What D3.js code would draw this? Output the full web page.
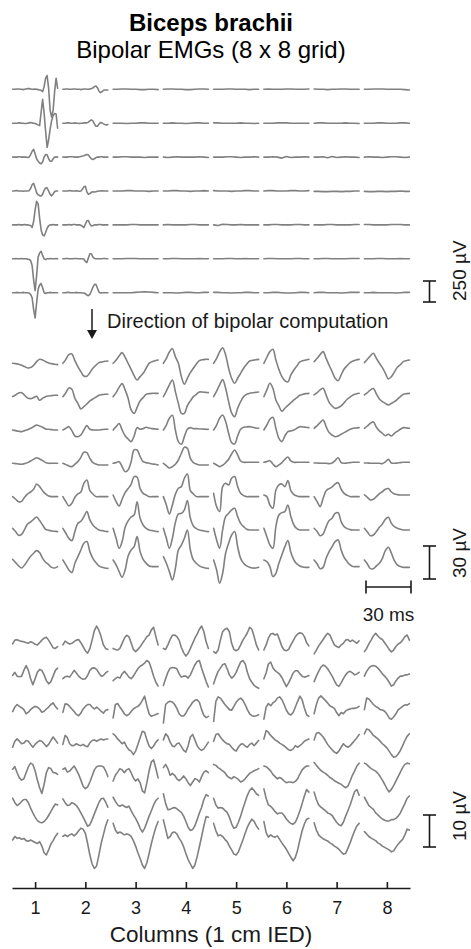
<!DOCTYPE html>
<html><head><meta charset="utf-8">
<script src="https://cdn.jsdelivr.net/npm/d3@7"></script>
<style>
body{margin:0;background:#fff}
svg{display:block;font-family:"Liberation Sans",Arial,Helvetica,sans-serif}
</style>
</head><body>
<svg id="chart" width="471" height="949"></svg>
<script>
// ---------------- data ----------------
const columns = [1, 2, 3, 4, 5, 6, 7, 8];
const tickLabels = ["1", "2", "3", "4", "5", "6", "7", "8"];
const rowIds = [1, 2, 3, 4, 5, 6, 7];
const traceDurationMs = 30;
const titleText = "Biceps brachii";
const subtitleText = "Bipolar EMGs (8 x 8 grid)";
const directionText = "Direction of bipolar computation";
const xAxisTitle = "Columns (1 cm IED)";
const scaleBarValues = { A: 250, B: 30, C: 10, timeMs: 30 };

// Panel A (µV), each trace sampled evenly over 30 ms
const A_r1 = [
 [0,0,0,4,4,0,0,-4,0,4,8,8,4,0,0,4,0,-4,-8,-12,-28,32,132,164,12,-250,-330,-250,-28,132,12],
 [0,0,4,4,0,0,0,4,4,0,0,0,-4,0,4,4,0,0,4,8,16,32,40,20,-20,-40,-30,-12,-8,-8,-8],
 [0,0,4,4,0,0,-4,-4,0,0,-4],[0,4,4,0,0,-4,-4,0,4,4,0],[0,0,0,4,4,0,0,0,-4,0,0],
 [0,4,0,0,0,4,4,0,0,0,4],[4,0,0,-4,0,0,4,4,0,0,0],[0,0,4,4,4,0,0,0,0,-4,-8]];
const A_r2 = [
 [0,0,0,0,4,4,0,0,-4,-4,0,4,8,4,0,-4,-12,-20,-28,130,285,120,-96,-288,-200,-70,30,90,115,110,-60],
 [0,0,0,4,4,0,0,0,4,0,0,-4,0,0,4,4,4,12,28,40,28,-8,-36,-36,-12,8,4,-8,-16,-20,-16],
 [0,0,0,-4,0,0,4,4,0,0,0],[0,0,4,0,0,-4,0,4,4,0,0],[4,4,0,0,0,0,4,0,0,-4,0],
 [0,0,0,4,4,4,0,0,0,0,0],[0,4,4,0,0,0,0,4,0,0,-4],[0,0,0,4,4,0,0,0,4,4,0]];
const A_r3 = [
 [0,0,0,0,4,4,0,0,0,0,-4,0,30,70,92,40,-20,-50,-70,-80,-60,0,30,28,-20,-50,-50,-20,0,4,0],
 [0,0,0,0,4,4,4,4,0,0,0,4,8,12,16,24,32,24,0,-20,-28,-20,-8,0,0,4,4,0,0,0,0],
 [0,0,4,4,0,0,0,-4,0,0,0],[0,-4,0,4,0,0,0,0,4,0,-4],[0,0,0,4,4,0,-4,0,0,4,0],
 [0,0,4,0,-12,8,-4,0,0,4,0],[0,0,4,-8,8,-4,0,4,0,0,-4],[0,4,0,0,-4,0,4,4,0,-4,0]];
const A_r4 = [
 [0,0,4,4,0,0,0,-4,0,0,0,4,30,75,92,40,-20,-45,-55,-60,-40,10,35,38,0,-40,-58,-35,-8,0,0],
 [0,0,0,0,4,4,0,0,0,4,0,-4,0,20,50,56,-10,-40,-30,-16,-10,-12,-8,-4,0,0,4,0,0,0,0],
 [0,0,0,4,4,0,0,0,-4,0,0],[0,0,4,4,0,0,-4,0,0,4,0],[4,0,0,0,-4,0,0,4,4,0,0],
 [0,4,4,0,0,0,4,4,0,0,4],[-4,-4,-8,-8,-4,-4,-8,-4,-4,0,0],[-4,-8,-8,-4,-4,-8,-4,-4,0,-4,-4]];
const A_r5 = [
 [0,0,0,0,4,0,0,0,4,0,0,-4,-8,-30,40,180,280,250,80,-60,-120,-130,-90,-40,-10,0,0,4,0,0,0],
 [0,0,0,0,4,0,0,4,4,0,0,0,-4,-16,-32,8,48,52,10,-12,-8,0,0,0,4,4,0,0,0,0,0],
 [0,0,0,0,4,4,0,0,0,0,0],[0,4,0,0,0,0,4,4,0,0,0],[0,-8,8,4,0,0,4,0,0,0,0],
 [0,0,4,4,0,0,0,4,4,0,0],[0,0,0,4,4,0,0,0,0,4,4],[4,4,0,0,0,0,4,4,4,0,0]];
const A_r6 = [
 [0,0,4,0,0,0,4,0,0,0,-4,-8,-20,-80,-250,-380,-200,20,70,90,40,0,-10,0,0,4,0,0,0,4,0],
 [0,0,4,4,0,0,0,0,4,4,0,0,0,0,-4,-30,-44,10,60,60,20,4,0,0,0,0,0,4,4,0,0],
 [0,0,0,4,4,4,0,0,0,0,0],[0,0,4,4,0,0,0,0,4,0,0],[0,0,0,4,4,0,0,4,0,0,0],
 [0,4,4,0,0,0,0,4,4,0,0],[0,0,4,4,0,0,0,0,4,4,4],[0,0,0,4,4,0,0,0,4,0,0]];
const A_r7 = [
 [0,0,0,4,0,0,0,4,0,0,0,-4,-20,-60,-200,-300,-120,40,90,110,60,0,-10,0,0,4,0,0,0,0,0],
 [0,0,0,4,4,0,0,0,0,4,0,0,0,-4,-4,-12,-28,-36,-20,20,64,96,100,56,10,-4,0,0,0,0,0],
 [0,0,0,0,0,4,8,12,8,4,0],[0,0,0,-4,0,4,4,0,0,4,4],[4,4,0,0,-4,0,0,4,4,0,0],
 [0,0,4,4,0,-4,-4,0,4,4,0],[0,4,4,0,0,0,-4,0,4,4,4],[0,0,4,0,0,0,0,-4,0,4,4]];

// Panel B (µV)
const B_r1 = [
 [0,-0.3,-0.9,-1.8,-3,-4.2,-3.9,-1.8,1.5,3.6,3,1.5,0.3,-0.3,-0.9,-1.2],
 [0,3.6,7.9,8.5,2.4,-3,-7.6,-11.5,-11.8,-8.5,-4.5,-1.8,0.6,1.2,1.8,2.1],
 [0,3,6.7,9.7,5.5,0,-5.5,-11.2,-15.2,-12.1,-9.1,-4.5,0,1.5,2.4,3],
 [0,4.5,10.3,13.3,6,0,-12.1,-19.1,-13.6,-8.5,-4.5,-0.6,2.4,3.3,3.6,3.6],
 [0,4.5,10.3,14.2,7.6,-4.5,-13.6,-18.2,-13.6,-9.1,-4.5,-0.9,2.1,2.7,3.3,3.6],
 [0,5.5,10.6,12.7,3,-5.5,-12.1,-15.8,-17,-10.6,-6.1,-2.4,1.2,2.4,3,3.6],
 [1.5,4.5,7.9,10.6,4.5,-1.8,-7.6,-13.6,-15.8,-10.6,-5.2,-2.1,0.6,2.1,3,3.6],
 [0.6,3.6,6.7,9.1,4.5,0,-3.9,-9.1,-14.2,-12.1,-7.9,-3.6,-1.2,1.5,2.4,3]];
const B_r2 = [
 [-0.3,1.2,3,3.3,0.9,-1.5,-2.1,-1.2,0,-3.6,-1.8,-0.3,0.3,0.6,0.9,0.9],
 [-0.3,3.3,7.6,6.4,-1.8,-6.4,-11.5,-9.4,-7,-4.2,-2.4,-0.9,0.9,1.5,1.8,1.8],
 [-0.3,3.3,8.2,11.5,5.8,-1.8,-12.4,-15.5,-10,-4.2,-1.2,1.8,2.4,2.7,2.7,2.7],
 [-0.3,4.8,10.3,14.8,4.2,-6.4,-15.5,-15.5,-8.5,-4.2,-0.3,1.8,3.9,3.9,3.6,3.3],
 [-0.3,4.8,10.3,15.2,7.3,-4.8,-15,-18.5,-10.9,-4.8,-0.3,1.8,2.7,3.3,3.6,3.9],
 [-0.3,5.8,11.8,7.3,-3.3,-8.8,-13.6,-10.9,-8.2,-5.8,-3.3,-1.2,0.9,1.8,2.4,2.7],
 [1.2,3.3,5.8,7.3,1.2,-5.5,-8.8,-10.9,-10.3,-8.8,-5.8,-2.7,-0.6,1.2,2.1,2.7],
 [1.2,3.3,5.8,7,2.1,-2.4,-4.8,-6.4,-7.9,-6.4,-4.8,-2.7,-0.3,1.8,2.4,2.7]];
const B_r3 = [
 [-0.6,-1.2,-1.8,-2.1,-1.2,-0.3,0.9,2.4,3.9,3,1.8,0.3,0,-0.3,-0.6,-0.6],
 [-0.6,0.9,2.4,-1.2,-6.1,-6.7,-5.2,-0.6,3.3,0,-0.6,-0.6,-0.6,-0.3,0,0],
 [-0.6,2.4,5.2,-0.6,-5.8,-8.8,-11.2,-6.1,1.5,0,0.6,1.8,1.2,0.6,0.3,0],
 [-0.6,3.9,10,12.7,-0.6,-11.2,-13.6,-6.7,0,1.5,0.6,0.6,0.3,0.3,0,0],
 [-0.6,3.9,10,13,7,-3.6,-12.1,-13.3,-6.1,0,1.8,2.1,2.4,1.8,1.2,0.9],
 [-0.6,3.9,9.1,10.9,0.9,-8.2,-11.2,-6.1,-2.1,-1.5,-0.6,0.9,2.4,2.1,1.8,1.5],
 [0.9,3.3,6.1,8.5,2.4,-3,-5.2,-6.7,-6.1,-4.5,-3,-1.5,0,0.9,1.2,1.5],
 [0.9,3,5.5,6.7,1.8,-1.5,-3.6,-5.8,-4.5,-6.1,-3.6,-1.8,0,1.5,1.2,0.9]];
const B_r4 = [
 [-0.9,-1.2,-1.5,-1.8,-1.2,-0.3,1.2,2.7,4.2,3,1.5,-0.3,-0.9,-0.9,-0.9,-0.9],
 [-0.9,-2.1,-3.3,-3.9,-1.8,0.6,4.5,9.1,8.8,3.6,-0.3,-1.5,-2.4,-2.4,-2.4,-2.4],
 [-0.9,-0.3,0.6,-3.9,-8.5,-7,0.6,11.2,11.2,5.2,0.6,-0.3,-0.9,-1.5,-1.8,-2.4],
 [-0.9,-3,-5.2,-3.9,-1.8,2.1,8.2,13.6,12.7,3.6,-0.3,-1.5,-2.4,-2.4,-2.4,-2.4],
 [-0.9,-2.4,-3.9,-2.7,-0.3,2.7,7.6,11.2,6.7,1.2,0,0,0,0,0,0],
 [0,0.6,1.5,-1.5,-3.9,-2.4,-0.3,2.7,4.8,1.2,0,0,0,0,0,0],
 [-0.6,-0.6,-0.9,-0.9,-0.9,-1.2,-0.6,1.5,4.2,-0.3,-0.9,-0.6,-0.3,0,0,0],
 [-0.6,-0.6,-0.9,-0.9,-0.9,-0.9,-1.2,0.3,2.7,-0.6,-0.9,-0.6,-0.3,0,0,0]];
const B_r5 = [
 [-1.2,-3.6,-5.8,-5.5,-1.8,1.2,3,5.5,10.3,7.9,4.2,1.2,-0.6,-1.2,-1.2,-1.2],
 [-1.2,-5.8,-9.7,-7.3,-1.8,1.2,3,10.9,13.9,4.2,1.2,-1.2,-1.2,-1.2,-1.2,-1.2],
 [0.3,-5.8,-9.7,-3.6,2.4,6.1,10,17,16.4,6.1,1.8,0.3,-1.2,-1.2,-1.2,-1.2],
 [-1.2,-8.8,-17,-8.8,0.9,6.4,7.9,15.5,19.4,4.2,1.2,-1.2,-1.2,-1.2,-1.2,-1.2],
 [1.8,-10.3,-14.8,7.9,10.9,9.4,15.5,17,7.9,1.8,-0.3,-1.2,-1.2,-1.2,-1.2,-1.2],
 [0.3,-1.2,-8.8,-11.8,4.8,9.4,10.3,7.9,13.3,4.2,0.6,-0.6,-1.2,-1.2,-1.2,-1.2],
 [-1.2,-5.8,-10.3,-2.7,4.2,6.1,7.6,10.3,11.5,5.5,1.8,0,-1.2,-1.2,-1.2,-1.2],
 [0.3,-1.8,-4.2,-3.6,-1.2,1.5,3.3,5.5,6.1,3,1.2,0.6,0.3,0.3,0.3,0.3]];
const B_r6 = [
 [0,-3,-6.4,-5.5,-0.9,3.9,5.8,8.2,10.3,7,3,-0.9,-1.8,-2.4,-2.7,-3],
 [0,-4.5,-9.1,-11.2,-3,4.5,6.4,10.6,15.2,7.6,3,0.3,-1.5,-2.1,-2.7,-3],
 [0,-9.1,-18.2,-12.1,0.9,6.7,10.3,12.1,24.2,9.1,3,0,-1.5,-2.1,-2.7,-3],
 [0,-9.1,-18.2,-9.1,5.2,13,13.6,16.7,25.2,9.1,2.1,-0.3,-1.5,-2.1,-2.7,-3],
 [0,-10.6,-18.2,-1.5,10.6,13.6,16.7,18.2,10.6,4.5,1.5,-0.9,-1.5,-1.5,-1.5,-1.5],
 [0,-7.6,-15.2,-18.2,1.5,12.1,14.2,15.2,21.2,10.6,3,-0.3,-1.5,-1.5,-1.5,-1.5],
 [0,-3,-6.7,-5.2,1.5,7,9.1,13.6,14.2,6.1,1.5,-0.3,-1.2,-1.5,-1.5,-1.5],
 [0,-3.3,-6.7,-6.1,-3,0.9,3.9,8.2,10,4.5,1.5,0,-0.9,-1.5,-1.5,-1.5]];
const B_r7 = [
 [1.8,-1.2,-4.2,-6.1,-3.3,0.6,4.5,7.3,9.7,7.9,2.7,-0.9,-3,-5.5,-6.1,-4.8],
 [1.2,-3.3,-7.9,-10.3,-1.8,4.2,10.3,16.4,17.9,8.8,2.7,-1.2,-4.2,-5.5,-6.1,-6.4],
 [1.2,-3.3,-9.4,-14.5,-7.9,4.8,10.3,13.3,22.4,8.8,1.8,-1.8,-4.2,-4.8,-4.8,-4.8],
 [4.2,-1.8,-9.4,-17,-6.4,10.3,14.8,20.9,28.5,10.3,1.2,-1.8,-4.2,-5.5,-6.1,-6.4],
 [1.2,-7.9,-20,-10.9,7.3,16.4,23.9,27,13.3,2.7,-1.8,-4.2,-5.5,-6.1,-6.1,-5.5],
 [1.2,-0.3,-4.8,-13.9,-10.9,-1.8,5.8,13.3,18.8,7.9,1.2,-2.4,-4.2,-5.2,-5.5,-5.5],
 [1.2,-2.4,-6.7,-5.5,2.7,8.8,13.3,17.9,19.4,10.3,3.6,-0.3,-3.3,-4.8,-4.8,-4.8],
 [1.2,-2.4,-6.7,-6.7,-4.2,-1.8,2.7,9.7,12.7,7.3,0.6,-3.3,-4.8,-5.5,-5.5,-5.5]];

// Panel C (µV)
const C_r1 = [
 [-0.3,0.9,1.0,0.7,0.5,0.4,0.1,-0.1,0.4,0.1,-0.4,-0.6,0.1,0.9,1.5,1.8,0.9,-0.3,-1.5,-1.7,-1.1],
 [-0.6,0.6,0.1,-0.3,-0.1,0.4,0.9,1.1,0.1,-1.1,-2.4,-3.2,-1.7,0.9,3.9,5.3,4.0,2.0,-0.6,-1.7,-2.0],
 [-1.7,-2.0,-2.2,-1.7,-0.1,1.5,2.4,2.0,0.1,-2.0,-2.7,-2.0,-1.2,-0.1,0.9,2.0,2.5,4.1,4.9,2.0,-0.6],
 [-1.7,-2.0,-0.6,1.1,2.4,2.5,2.0,0.9,-1.4,-3.0,-4.1,-3.2,-1.7,-0.1,1.5,2.8,4.3,5.3,3.5,0.4,-1.7],
 [-2.7,-3.2,-2.2,0.9,3.5,4.3,4.6,3.5,-0.1,-2.0,-2.4,-2.0,-0.6,0.9,2.0,3.2,4.9,4.3,2.0,-0.6,-2.2],
 [-2.2,-0.6,1.5,2.8,3.0,2.5,2.8,0.9,-1.1,-2.2,-2.4,-2.0,-0.6,0.7,2.0,2.8,3.2,3.0,2.0,0.1,-0.9],
 [-3.4,-2.2,-0.9,0.1,1.1,2.2,3.0,2.5,0.9,-0.6,-1.1,-1.4,-0.6,-0.1,0.9,1.1,0.4,0.9,0.4,-0.1,0.7],
 [-2.7,-1.7,-0.3,0.9,2.2,3.0,2.2,1.5,1.1,0.1,-0.9,-2.0,-2.8,-2.2,-1.1,-0.3,0.1,0.9,2.0,2.5,0.9]];
const C_r2 = [
 [0.1,1.1,-0.1,-0.3,-0.1,1.7,3.2,1.7,-0.9,-2.8,-0.9,1.1,2.0,1.7,0.3,-1.5,-2.5,-1.8,-0.1,1.7,2.4],
 [-0.9,-0.3,-0.1,-0.4,0.6,1.7,0.9,-0.1,-0.7,-1.1,-0.9,0.1,1.7,2.4,2.5,2.0,0.9,-0.1,0.1,0.9,1.4],
 [-1.5,-0.9,-0.4,-0.7,0.6,1.4,0.6,-0.4,-0.9,-0.1,1.1,2.2,3.0,3.4,4.0,4.8,4.3,2.2,-0.1,-2.0,-3.2],
 [-3.0,-0.9,1.1,2.4,2.6,2.5,2.2,0.6,-0.4,-0.1,-0.1,-0.7,0.3,1.9,3.4,4.5,4.8,2.4,0.3,-1.8,-3.5],
 [-2.5,-0.4,1.4,2.4,3.5,3.8,2.2,0.3,-0.7,-0.1,1.1,2.7,4.3,4.8,3.8,1.1,-0.9,-2.0,-3.0,-3.5,-3.9],
 [-0.9,0.9,3.7,4.3,2.5,1.6,1.1,0.5,-0.5,-2.0,-3.4,-2.2,-0.7,0.9,1.6,1.6,0.6,-0.1,-0.4,-0.2,0.1],
 [-1.8,-0.1,1.4,2.7,3.4,3.0,2.2,1.1,-0.1,-1.5,-2.8,-3.3,-2.2,-0.9,0.3,1.1,1.4,0.9,0.3,0.6,1.1],
 [-0.1,1.4,2.4,3.0,3.2,3.0,2.4,1.6,0.6,-0.1,-0.9,-2.0,-3.2,-2.8,-1.6,-0.7,-0.1,-0.1,0.3,0.3,0.6]];
const C_r3 = [
 [-0.9,0.5,1.3,0.7,0.3,-0.3,-1.6,-1.1,-0.3,0.3,0.7,0.5,-0.1,-1.1,-0.8,-0.1,0.5,1.3,1.8,0.7,-0.1],
 [-1.1,1.5,1.4,0.7,-0.1,-0.9,-1.8,-2.2,-1.4,-0.1,0.7,1.3,1.3,0.5,-0.1,0.5,-0.1,-0.8,-1.4,-0.5,-0.3],
 [-2.9,1.3,1.6,0.5,-0.5,-1.6,-2.2,-1.8,-0.9,-0.1,0.4,0.7,1.4,2.6,3.9,0.9,-1.6,-2.4,-2.1,-1.8,-1.5],
 [-4.5,1.3,2.0,2.3,2.1,1.3,0.1,-1.6,-2.3,-2.3,-1.4,-0.1,0.9,2.0,2.6,2.8,2.0,-0.3,-2.1,-2.8,-2.4],
 [-4.0,2.3,3.7,3.3,2.3,1.3,0.5,-0.3,-0.5,0.7,2.0,2.8,3.3,2.6,1.3,-0.3,-1.6,-2.2,-2.4,-2.2,-1.9],
 [-3.3,0.5,1.6,0.9,1.8,2.3,3.3,3.7,2.8,1.3,-0.5,-1.6,-2.0,-1.2,0.5,2.3,3.9,2.8,0.2,-1.9,-2.4],
 [-1.6,1.3,3.3,4.0,3.3,2.6,1.8,0.9,0.5,0.1,-1.2,-2.2,-1.2,-1.6,-0.7,-0.3,-0.1,0.1,0.1,0.3,0.7],
 [-0.3,3.3,3.0,2.2,1.3,0.7,0.3,-0.3,-0.4,-0.8,-1.7,-2.9,-3.3,-2.6,-1.6,-0.4,0.2,0.7,1.2,1.1,1.6]];
const C_r4 = [
 [-1.8,0.1,0.8,0.1,-0.7,-0.5,0.3,0.1,-0.9,-1.8,-0.9,-0.2,0.3,0.1,-0.7,-1.6,-0.9,0.3,1.4,0.5,-0.5],
 [-0.9,1.9,1.2,-0.7,-1.3,-1.2,-0.7,-1.1,-1.3,-0.9,-1.4,-1.6,-0.4,0.3,0.5,0.1,0.5,0.8,0.5,0.7,0.8],
 [2.4,1.8,0.8,0.1,-0.7,-0.2,-1.6,-2.6,-3.0,-4.1,-3.0,-0.9,1.2,3.2,2.9,0.5,-1.4,-2.2,-1.4,-0.2,0.5],
 [0.5,2.4,1.6,-0.2,-1.4,-1.6,-0.7,-0.5,-1.6,-2.8,-3.3,-1.3,1.4,2.2,0.5,-1.3,-2.3,-2.8,-2.3,-1.3,-0.2],
 [0.1,2.2,2.4,1.4,0.5,-0.2,-0.7,-0.9,-1.8,-2.6,-3.0,-1.8,-0.9,-0.7,-1.4,-1.8,-0.9,-0.5,-1.3,-0.5,0.3],
 [0.8,3.4,2.9,1.9,1.2,0.5,0.1,-0.5,-0.9,-1.4,-2.0,-2.6,-2.8,-2.3,-1.3,-1.8,-1.3,-0.7,0.1,0.5,0.8],
 [0.5,2.6,2.8,2.2,1.4,0.3,-0.9,-1.8,-2.6,-3.3,-3.7,-3.0,-1.8,-0.7,-1.4,-1.8,-1.3,-0.5,0.3,1.2,2.2],
 [2.4,3.9,3.7,2.9,1.9,1.4,0.8,0.1,-0.7,-1.3,-2.0,-3.0,-4.1,-4.9,-4.7,-3.9,-2.8,-1.3,0.3,1.6,2.4]];
const C_r5 = [
 [1.6,2.4,0.5,-1.1,-1.8,-1.4,0.5,2.4,3.5,3.1,1.1,-1.8,-4.2,-6.0,-3.1,0.5,2.1,1.8,0.5,0.5,0],
 [1.6,2.0,0.7,1.0,1.8,2.6,1.4,0,-1.8,-3.7,-4.5,-3.9,-2.4,-0.5,1.4,2.4,2.6,2.6,2.4,1.1,-0.7],
 [-2.1,-0.3,0.7,1.8,1.4,0.5,1.4,1.8,0.5,-1.1,-2.1,-1.4,-2.6,-5.2,-5.8,-2.6,1.1,3.9,4.5,1.8,-1.1],
 [2.1,3.1,1.8,-0.3,0.3,-0.3,-1.4,-2.0,-1.4,-0.5,-1.4,-2.6,-3.5,-2.4,-1.4,-1.6,-2.4,-0.7,0.7,1.1,0.5],
 [3.1,2.8,2.1,1.6,1.1,0.5,-0.5,-1.1,-1.4,-0.7,-1.1,-1.6,-2.4,-2.1,-1.4,-0.5,0.3,0.7,1.1,1.4,1.8],
 [2.6,2.4,1.8,1.1,0,-0.7,-1.4,-1.0,-1.4,-2.1,-2.6,-2.4,-2.4,-2.6,-2.2,-1.4,0.1,1.4,2.1,2.6,2.6],
 [3.7,2.8,2.0,1.2,0.7,0.3,-0.3,-1.0,-1.4,-2.0,-2.4,-2.8,-3.1,-3.7,-4.2,-3.7,-2.1,-0.3,1.1,2.6,3.5],
 [3.5,3.1,2.4,1.8,1.4,1.0,0.3,-0.7,-1.8,-3.1,-4.5,-5.5,-4.7,-3.5,-2.1,-0.7,0.7,2.1,3.1,3.5,3.3]];
const C_r6 = [
 [2.8,1.4,0.5,1.0,1.8,2.4,2.4,1.4,-0.3,-1.8,-3.1,-4.2,-4.7,-4.9,-4.5,-3.7,-2.6,-1.4,-0.1,1.0,0.7],
 [2.6,1.4,0.5,0.7,1.4,1.1,0.5,-0.5,-1.8,-3.1,-4.5,-6.0,-5.5,-3.9,-2.1,-0.3,1.4,2.6,2.8,1.6,0],
 [3.1,1.8,0.7,0.3,0.7,0.3,-0.1,0.3,-1.1,-2.4,-3.5,-4.9,-6.6,-7.8,-6.6,-4.7,-2.8,-1.1,0.7,2.1,2.8],
 [4.2,1.1,-0.8,-0.7,-0.3,-0.1,-0.5,-1.1,-1.6,-2.8,-4.5,-6.3,-7.3,-7.0,-5.8,-3.9,-1.8,0,2.4,3.9,3.5],
 [2.8,0.7,-0.3,-0.1,-0.3,-1.0,-1.6,-3.1,-5.2,-6.6,-6.3,-4.7,-2.8,-0.5,1.6,3.7,5.2,6.0,5.2,4.2,3.7],
 [5.7,2.8,0.7,0.3,-0.5,-1.4,-2.1,-1.8,-1.8,-2.6,-3.7,-4.5,-5.1,-5.3,-4.7,-3.1,-1.1,1.1,3.5,5.5,4.7],
 [4.7,2.4,0.7,0,-0.5,-1.1,-1.8,-2.1,-2.6,-3.7,-4.7,-5.5,-5.8,-4.7,-2.8,-1.1,0.7,2.8,4.9,5.5,3.7],
 [3.1,1.8,0.5,-0.1,-0.7,-1.8,-2.4,-3.1,-3.7,-4.1,-4.3,-4.3,-3.9,-3.9,-3.5,-2.8,-1.8,-0.3,1.1,2.8,3.5]];
const C_r7 = [
 [0,1.1,0.5,0.7,0.2,0.5,-0.2,-0.4,0,-0.4,-0.8,-1.1,-0.5,-1.9,-4.0,-4.7,-3.1,-1.3,-0.2,1.1,2.1],
 [1.1,1.6,1.1,1.6,1.9,1.3,1.9,2.9,3.7,3.4,2.1,-1.1,-4.7,-7.5,-8.9,-8.1,-4.7,-1.1,1.6,4.4,6.3],
 [5.2,3.1,2.1,2.5,2.1,1.6,1.9,1.7,1.1,-0.2,-1.9,-4.0,-5.8,-7.8,-8.9,-7.1,-4.2,-1.1,1.6,4.0,5.8],
 [6.3,3.4,0.5,1.1,2.3,2.5,1.9,0.5,-0.5,-2.1,-4.2,-6.1,-7.5,-8.9,-7.8,-5.2,-2.1,1.1,4.4,7.3,7.1],
 [5.2,2.9,1.3,1.6,1.1,0.2,-0.5,-1.9,-3.1,-4.4,-4.7,-3.7,-1.9,0,2.1,4.0,5.4,6.5,5.8,4.4,3.4],
 [5.8,2.3,0.9,1.6,1.1,0.9,1.3,0.2,-0.9,-1.9,-2.9,-4.2,-5.4,-6.5,-5.4,-3.1,0,2.9,5.0,6.5,6.8],
 [5.4,3.1,1.6,0.9,0.4,0,-0.3,-0.9,-1.3,-1.9,-2.3,-2.9,-3.7,-4.4,-4.2,-2.6,-0.9,1.1,2.9,4.4,5.2],
 [2.6,1.9,1.1,0.6,0.2,-0.2,-0.9,-1.3,-1.9,-2.3,-2.7,-3.1,-3.7,-3.4,-2.3,-1.3,-0.5,0.2,1.6,3.4,3.1]];

// ---------------- drawing ----------------
const svg = d3.select("#chart");
const traceColor = "#808080";
const inkColor = "#1a1a1a";

const x = d3.scaleLinear().domain([0.54, 8.46]).range([12, 410]);
const t = d3.scaleLinear().domain([0, traceDurationMs]).range([-22.5, 22.5]);

const panels = [
  { rows: [A_r1, A_r2, A_r3, A_r4, A_r5, A_r6, A_r7], y: d3.scalePoint().domain(rowIds).range([89.3, 292.7]),
    amp: d3.scaleLinear().domain([0, 250]).range([0, -21]), curve: d3.curveLinear, bar: scaleBarValues.A,
    barBottom: 302, labelStart: 301 },
  { rows: [B_r1, B_r2, B_r3, B_r4, B_r5, B_r6, B_r7], y: d3.scalePoint().domain(rowIds).range([363.3, 561.3]),
    amp: d3.scaleLinear().domain([0, 30]).range([0, -33]), curve: d3.curveCatmullRom, bar: scaleBarValues.B,
    barBottom: 579, labelStart: 578 },
  { rows: [C_r1, C_r2, C_r3, C_r4, C_r5, C_r6, C_r7], y: d3.scalePoint().domain(rowIds).range([643, 840]),
    amp: d3.scaleLinear().domain([0, 10]).range([0, -32]), curve: d3.curveLinear, bar: scaleBarValues.C,
    barBottom: 847, labelStart: 841 }
];

const gTraces = svg.append("g");
panels.forEach(p => {
  p.rows.forEach((row, ri) => {
    const y0 = p.y(rowIds[ri]);
    row.forEach((vals, ci) => {
      const cx = x(columns[ci]);
      const n = vals.length;
      const line = d3.line()
        .x((d, i) => cx + t(i * traceDurationMs / (n - 1)))
        .y(d => y0 + p.amp(d))
        .curve(p.curve);
      gTraces.append("path").attr("d", line(vals))
        .attr("fill", "none").attr("stroke", traceColor)
        .attr("stroke-width", 1.6).attr("stroke-linejoin", "round").attr("stroke-linecap", "round");
    });
  });
});

// amplitude scale bars
const barX = 429.5, capHalf = 6.5;
const gBars = svg.append("g").attr("stroke", inkColor).attr("stroke-width", 1.6).attr("fill", "none");
panels.forEach(p => {
  const yb = p.barBottom, yt = p.barBottom + p.amp(p.bar);
  gBars.append("line").attr("x1", barX).attr("x2", barX).attr("y1", yb).attr("y2", yt);
  gBars.append("line").attr("x1", barX - capHalf).attr("x2", barX + capHalf).attr("y1", yb).attr("y2", yb);
  gBars.append("line").attr("x1", barX - capHalf).attr("x2", barX + capHalf).attr("y1", yt).attr("y2", yt);
  svg.append("text").attr("transform", `translate(466,${p.labelStart}) rotate(-90)`)
    .attr("font-size", 19).attr("fill", inkColor).attr("text-anchor", "start")
    .text(p.bar + " \u00b5V");
});

// time scale bar
const tbY = 587, tbX0 = 366, tbX1 = tbX0 + (t(scaleBarValues.timeMs) - t(0));
gBars.append("line").attr("x1", tbX0).attr("x2", tbX1).attr("y1", tbY).attr("y2", tbY);
gBars.append("line").attr("x1", tbX0).attr("x2", tbX0).attr("y1", tbY - capHalf).attr("y2", tbY + capHalf);
gBars.append("line").attr("x1", tbX1).attr("x2", tbX1).attr("y1", tbY - capHalf).attr("y2", tbY + capHalf);
svg.append("text").attr("x", (tbX0 + tbX1) / 2).attr("y", 621).attr("text-anchor", "middle")
  .attr("font-size", 19).attr("fill", inkColor).text(scaleBarValues.timeMs + " ms");

// direction arrow
svg.append("line").attr("x1", 92).attr("x2", 92).attr("y1", 309).attr("y2", 331)
  .attr("stroke", inkColor).attr("stroke-width", 1.5);
svg.append("path").attr("d", "M87,330L97,330L92,339Z").attr("fill", inkColor);
svg.append("text").attr("x", 107).attr("y", 328).attr("font-size", 20).attr("fill", inkColor).text(directionText);

// x axis
const axis = d3.axisBottom(x).tickValues(columns).tickFormat((d, i) => tickLabels[i])
  .tickSize(-6).tickSizeOuter(0).tickPadding(13);
const gAxis = svg.append("g").attr("transform", "translate(0,888)").call(axis);
gAxis.select(".domain").attr("stroke", inkColor).attr("stroke-width", 1.6);
gAxis.selectAll(".tick line").attr("stroke", inkColor).attr("stroke-width", 1.6);
gAxis.selectAll(".tick text").attr("font-size", 18).attr("fill", inkColor)
  .attr("font-family", "'Liberation Sans', Arial, sans-serif");
svg.append("text").attr("x", 211).attr("y", 942).attr("text-anchor", "middle")
  .attr("font-size", 22.5).attr("fill", inkColor).text(xAxisTitle);

// titles
svg.append("text").attr("x", 211).attr("y", 31).attr("text-anchor", "middle")
  .attr("font-size", 24).attr("font-weight", "bold").attr("fill", "#000").text(titleText);
svg.append("text").attr("x", 211).attr("y", 58).attr("text-anchor", "middle")
  .attr("font-size", 24).attr("fill", "#000").text(subtitleText);
</script>
</body></html>
